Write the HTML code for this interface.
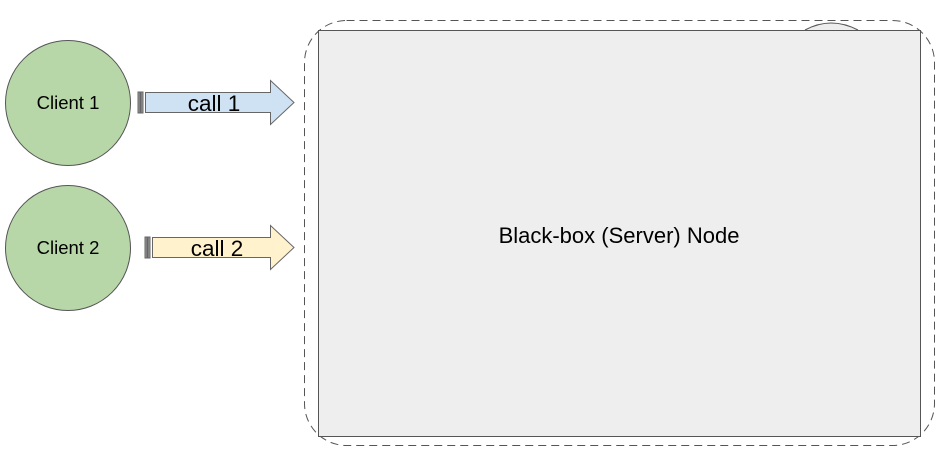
<!DOCTYPE html>
<html><head><style>body{margin:0;background:#fff}svg{display:block}</style></head><body>
<svg width="944" height="452" xmlns="http://www.w3.org/2000/svg" font-family="Liberation Sans, sans-serif">
<rect x="304.5" y="20.5" width="630" height="425" rx="42" fill="none" stroke="#555" stroke-dasharray="8,5"/>
<path d="M805 30 Q831 16 858 30" fill="#eee" stroke="#555"/>
<rect x="318.5" y="30.5" width="602" height="406" fill="#eeeeee" stroke="#555"/>
<text x="619" y="243" font-size="22" text-anchor="middle" fill="#000">Black-box (Server) Node</text>
<circle cx="68" cy="103" r="62.5" fill="#b7d7a8" stroke="#555"/>
<text x="68" y="109" font-size="18.5" text-anchor="middle">Client 1</text>
<circle cx="68" cy="248" r="62.5" fill="#b7d7a8" stroke="#555"/>
<text x="68" y="254" font-size="18.5" text-anchor="middle">Client 2</text>
<g stroke="#666">
<rect x="138" y="92" width="2" height="21" fill="#999"/><rect x="141" y="92" width="2" height="21" fill="#999"/>
<path d="M145.5 92.5 H270.5 V80.5 L294 102.5 L270.5 124.5 V112.5 H145.5 Z" fill="#cfe2f3"/>
<rect x="145" y="237" width="2" height="21" fill="#999"/><rect x="148" y="237" width="2" height="21" fill="#999"/>
<path d="M152.5 237.5 H270.5 V225.5 L294 247.5 L270.5 269.5 V257.5 H152.5 Z" fill="#fff2cc"/>
</g>
<text x="214" y="111" font-size="22.5" text-anchor="middle">call 1</text>
<text x="217" y="256" font-size="22.5" text-anchor="middle">call 2</text>
</svg>
</body></html>
